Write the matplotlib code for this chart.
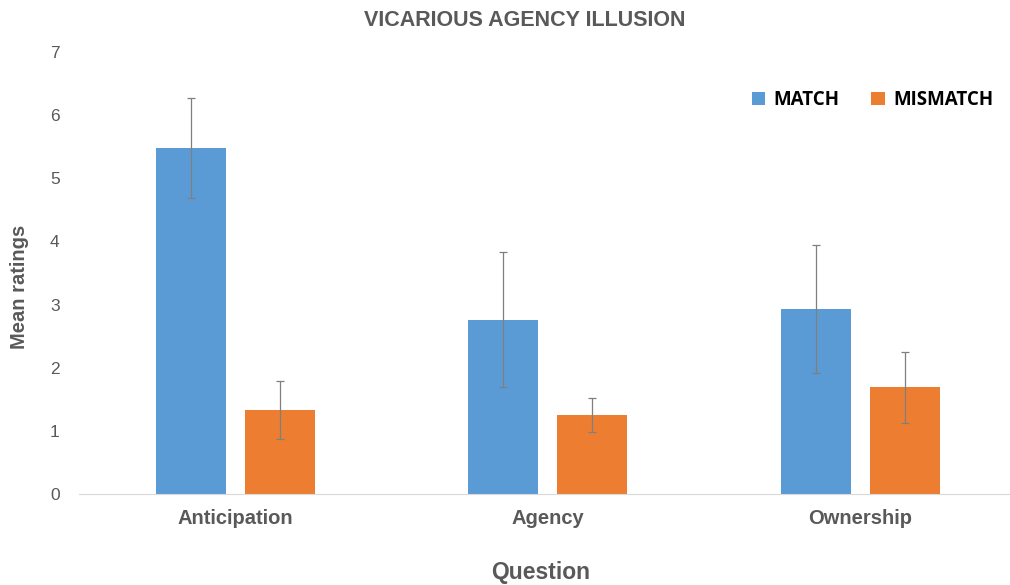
import matplotlib
matplotlib.use("Agg")
import matplotlib.pyplot as plt
import numpy as np

plt.rcParams['font.family'] = ['Liberation Sans', 'DejaVu Sans']

questions = ['Anticipation', 'Agency', 'Ownership']
match_mean = [5.48, 2.76, 2.93]
match_err = [0.79, 1.07, 1.01]
mismatch_mean = [1.33, 1.25, 1.69]
mismatch_err = [0.46, 0.27, 0.56]

blue = '#5B9BD5'
orange = '#ED7D31'
grey_txt = '#595959'

fig = plt.figure(figsize=(10.1, 5.85), dpi=100)
ax = fig.add_axes([79 / 1010, 91 / 585, 937.75 / 1010, 442 / 585])

x = np.arange(len(questions))
w = 0.224
off = 0.1424
err_kw = dict(ecolor='#7F7F7F', elinewidth=0.9, capsize=3, capthick=0.9)
ax.bar(x - off, match_mean, w, yerr=match_err, color=blue, label='MATCH',
       error_kw=err_kw)
ax.bar(x + off, mismatch_mean, w, yerr=mismatch_err, color=orange,
       label='MISMATCH', error_kw=err_kw)

ax.set_xlim(-0.5, 2.5)
ax.set_ylim(0, 7)
ax.set_yticks(range(8))
ax.set_xticks(x)
ax.set_xticklabels(questions, fontsize=14.5, fontweight='bold', color=grey_txt)
ax.tick_params(axis='y', labelsize=12.5, colors=grey_txt, length=0, pad=14)
ax.tick_params(axis='x', length=0, pad=11)
for s in ['top', 'right', 'left']:
    ax.spines[s].set_visible(False)
ax.spines['bottom'].set_color('#D9D9D9')

fig.text(525 / 1010, 1 - 20 / 585, 'VICARIOUS AGENCY ILLUSION', ha='center', va='center',
         fontsize=15.5, fontweight='bold', color=grey_txt)
fig.text(541 / 1010, 1 - 572 / 585, 'Question', ha='center', va='center',
         fontsize=16.5, fontweight='bold', color=grey_txt)
fig.text(20 / 1010, 1 - 287 / 585, 'Mean ratings', ha='center', va='center',
         rotation=90, fontsize=14.5, fontweight='bold', color=grey_txt)

leg = ax.legend(loc='upper right', bbox_to_anchor=(1010 / 937.75 - 79 / 937.75, 1 - 21 / 442),
                ncol=2, frameon=False, handlelength=0.7, handleheight=0.7,
                columnspacing=1.7, handletextpad=0.45,
                prop={'family': 'Open Sans', 'weight': 'bold', 'size': 13.5})

fig.savefig('out.png', dpi=100)
